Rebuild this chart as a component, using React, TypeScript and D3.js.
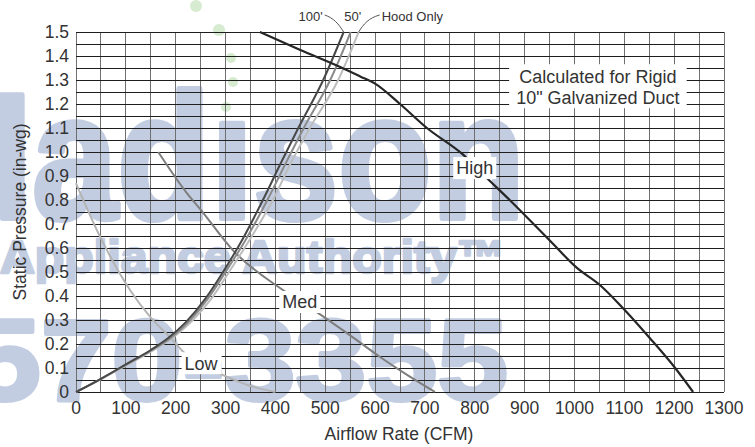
import React, { useEffect, useRef } from 'react';
import * as d3 from 'd3';

// ---------- data ----------
const xTickValues = [0, 100, 200, 300, 400, 500, 600, 700, 800, 900, 1000, 1100, 1200, 1300];
const yTickValues = [0, 0.1, 0.2, 0.3, 0.4, 0.5, 0.6, 0.7, 0.8, 0.9, 1.0, 1.1, 1.2, 1.3, 1.4, 1.5];
const yTickLabels = ['0', '0.1', '0.2', '0.3', '0.4', '0.5', '0.6', '0.7', '0.8', '0.9', '1.0', '1.1', '1.2', '1.3', '1.4', '1.5'];

// Fan curves [CFM, in-wg]
const highCurve: [number, number][] = [
  [369, 1.5], [450, 1.425], [530, 1.354], [570, 1.315], [600, 1.285], [650, 1.2], [704, 1.1],
  [776, 0.99], [820, 0.9], [870, 0.8], [951, 0.63], [1005, 0.517], [1051, 0.446], [1097, 0.35],
  [1151, 0.225], [1202, 0.1], [1238, 0],
];
const medCurve: [number, number][] = [
  [165, 1.0], [222, 0.83], [250, 0.76], [315, 0.59], [415, 0.425], [483, 0.333], [550, 0.236],
  [610, 0.146], [665, 0.07], [720, 0],
];
const lowCurve: [number, number][] = [
  [0, 0.87], [50, 0.64], [110, 0.42], [150, 0.31], [190, 0.225], [215, 0.168], [255, 0.11],
  [295, 0.07], [350, 0.025], [400, 0],
];

// System curves [CFM, in-wg]
const duct100: [number, number][] = [
  [0, 0], [50, 0.055], [100, 0.115], [150, 0.175], [185, 0.225], [220, 0.29], [260, 0.39],
  [295, 0.5], [335, 0.64], [375, 0.8], [410, 0.95], [446, 1.1], [496, 1.3], [537, 1.5],
];
const duct50: [number, number][] = [
  [0, 0], [50, 0.055], [100, 0.113], [150, 0.172], [190, 0.225], [225, 0.29], [265, 0.39],
  [300, 0.5], [342, 0.64], [384, 0.8], [420, 0.95], [457, 1.1], [510, 1.3], [551, 1.5],
];
const hoodOnly: [number, number][] = [
  [0, 0], [50, 0.053], [100, 0.11], [150, 0.168], [193, 0.225], [230, 0.29], [272, 0.39],
  [307, 0.5], [350, 0.64], [395, 0.8], [430, 0.95], [469, 1.1], [526, 1.3], [567, 1.5],
];

const fanLabels = ['High', 'Med', 'Low'];
const fanLabelPos: [number, number][] = [[800, 0.933], [449, 0.375], [251, 0.12]];
const noteLines = ['Calculated for Rigid', '10" Galvanized Duct'];
const noteCenter: [number, number] = [1047, 1.27];

const FONT = '"Liberation Sans", Arial, Helvetica, sans-serif';
const TEXT = '#333';
const WM = '#c3cde2';

export default function App() {
  const ref = useRef<SVGSVGElement | null>(null);

  useEffect(() => {
    const svg = d3.select(ref.current);
    svg.selectAll('*').remove();

    const x = d3.scaleLinear().domain([0, 1300]).range([76, 724]);
    const y = d3.scaleLinear().domain([0, 1.5]).range([392, 32]);

    // ---- watermark (behind everything) ----
    const wm = svg.append('g').attr('font-family', FONT).attr('font-weight', 'bold')
      .attr('fill', WM).attr('stroke', WM).attr('stroke-linejoin', 'round');
    wm.append('text').attr('x', -95).attr('y', 218).attr('font-size', 178).attr('stroke-width', 6)
      .attr('textLength', 620).attr('lengthAdjust', 'spacingAndGlyphs').text('Madıson');
    wm.append('text').attr('x', 0).attr('y', 273).attr('font-size', 47).attr('stroke-width', 2.5)
      .attr('textLength', 505).attr('lengthAdjust', 'spacingAndGlyphs').text('Appliance Authority™');
    wm.append('text').attr('x', -30).attr('y', 400).attr('font-size', 115).attr('stroke-width', 4)
      .attr('textLength', 538).attr('lengthAdjust', 'spacingAndGlyphs').text('570-3355');
    const dots = [[196, 6, 6], [219, 30, 6], [231, 58, 5], [233, 82, 5], [226, 107, 5]];
    svg.append('g').selectAll('circle').data(dots).join('circle')
      .attr('cx', (d) => d[0]).attr('cy', (d) => d[1]).attr('r', (d) => d[2]).attr('fill', '#d6ebd0');

    // ---- grid ----
    const grid = svg.append('g').attr('shape-rendering', 'crispEdges');
    grid.selectAll('line.v').data(d3.range(0, 1301, 50)).join('line')
      .attr('x1', (d) => x(d)).attr('x2', (d) => x(d)).attr('y1', y(0)).attr('y2', y(1.5))
      .attr('stroke', '#707070').attr('stroke-width', 1);
    grid.selectAll('line.h').data(d3.range(0, 31).map((i) => i * 0.05)).join('line')
      .attr('x1', x(0)).attr('x2', x(1300)).attr('y1', (d) => y(d)).attr('y2', (d) => y(d))
      .attr('stroke', '#1e1e1e').attr('stroke-width', 1);

    // ---- tick labels ----
    const ticks = svg.append('g').attr('font-family', FONT).attr('fill', TEXT).attr('font-size', 17.5);
    ticks.selectAll('text.y').data(yTickValues).join('text')
      .attr('x', 69).attr('y', (d) => y(d)).attr('dy', '0.35em').attr('text-anchor', 'end')
      .text((d, i) => yTickLabels[i]);
    ticks.selectAll('text.x').data(xTickValues).join('text')
      .attr('x', (d) => x(d)).attr('y', 414).attr('text-anchor', 'middle').text((d) => String(d));

    // ---- axis titles ----
    svg.append('text').attr('x', 399).attr('y', 440).attr('text-anchor', 'middle')
      .attr('font-family', FONT).attr('font-size', 17.5).attr('fill', TEXT).text('Airflow Rate (CFM)');
    svg.append('text').attr('transform', 'translate(26,212) rotate(-90)').attr('text-anchor', 'middle')
      .attr('font-family', FONT).attr('font-size', 17.5).attr('fill', TEXT).text('Static Pressure (in-wg)');

    // ---- curves ----
    const line = d3.line<[number, number]>().x((d) => x(d[0])).y((d) => y(d[1])).curve(d3.curveMonotoneX);
    const series: { data: [number, number][]; color: string; w: number }[] = [
      { data: lowCurve, color: '#b4b4b4', w: 2 },
      { data: medCurve, color: '#7e7e7e', w: 2 },
      { data: hoodOnly, color: '#bdbdbd', w: 2 },
      { data: duct50, color: '#8a8a8a', w: 2 },
      { data: duct100, color: '#484848', w: 2 },
      { data: highCurve, color: '#262626', w: 2.2 },
    ];
    const curves = svg.append('g').attr('fill', 'none');
    series.forEach((s) => {
      curves.append('path').attr('d', line(s.data)).attr('stroke', s.color).attr('stroke-width', s.w);
    });

    // ---- top labels for system curves ----
    const top100 = duct100[duct100.length - 1];
    const top50 = duct50[duct50.length - 1];
    const topHood = hoodOnly[hoodOnly.length - 1];
    const tl = svg.append('g').attr('font-family', FONT).attr('font-size', 13).attr('fill', TEXT);
    const p100 = [x(top100[0]), y(top100[1])];
    const pHood = [x(topHood[0]), y(topHood[1])];
    tl.append('text').attr('x', p100[0] - 21).attr('y', 21).attr('text-anchor', 'end').text("100'");
    tl.append('text').attr('x', x(top50[0]) + 2).attr('y', 21).attr('text-anchor', 'middle').text("50'");
    tl.append('text').attr('x', pHood[0] + 23).attr('y', 21).attr('text-anchor', 'start').text('Hood Only');
    svg.append('path')
      .attr('d', `M${p100[0]},${p100[1]} C${p100[0] - 5},${p100[1] - 8} ${p100[0] - 10},${p100[1] - 14} ${p100[0] - 19},${p100[1] - 17}`)
      .attr('fill', 'none').attr('stroke', '#555').attr('stroke-width', 1);
    svg.append('path')
      .attr('d', `M${pHood[0]},${pHood[1]} C${pHood[0] + 5},${pHood[1] - 8} ${pHood[0] + 10},${pHood[1] - 14} ${pHood[0] + 21},${pHood[1] - 17}`)
      .attr('fill', 'none').attr('stroke', '#555').attr('stroke-width', 1);

    // ---- fan curve labels with white background ----
    const lab = svg.append('g').attr('font-family', FONT).attr('font-size', 18).attr('fill', TEXT);
    fanLabels.forEach((t, i) => {
      const [cx, cy] = [x(fanLabelPos[i][0]), y(fanLabelPos[i][1])];
      const g = lab.append('g');
      const rect = g.append('rect').attr('fill', '#fff');
      const txt = g.append('text').attr('x', cx).attr('y', cy).attr('dy', '0.35em').attr('text-anchor', 'middle').text(t);
      const bb = (txt.node() as SVGTextElement).getBBox();
      rect.attr('x', bb.x - 3).attr('y', cy - 11).attr('width', bb.width + 6).attr('height', 22);
    });

    // ---- note box ----
    const note = svg.append('g').attr('font-family', FONT).attr('font-size', 18).attr('fill', TEXT);
    const nx = x(noteCenter[0]);
    const ny = y(noteCenter[1]);
    const nrect = note.append('rect').attr('fill', '#fff');
    const t1 = note.append('text').attr('x', nx).attr('y', ny - 4).attr('text-anchor', 'middle').text(noteLines[0]);
    const t2 = note.append('text').attr('x', nx).attr('y', ny + 17).attr('text-anchor', 'middle').text(noteLines[1]);
    const b1 = (t1.node() as SVGTextElement).getBBox();
    const b2 = (t2.node() as SVGTextElement).getBBox();
    const left = Math.min(b1.x, b2.x) - 7;
    const right = Math.max(b1.x + b1.width, b2.x + b2.width) + 7;
    nrect.attr('x', left).attr('y', ny - 23).attr('width', right - left).attr('height', 44);
  }, []);

  return (
    <svg
      ref={ref}
      width={755}
      height={447}
      viewBox="0 0 755 447"
      style={{ position: 'absolute', left: 0, top: 0, background: '#fff' }}
    />
  );
}
